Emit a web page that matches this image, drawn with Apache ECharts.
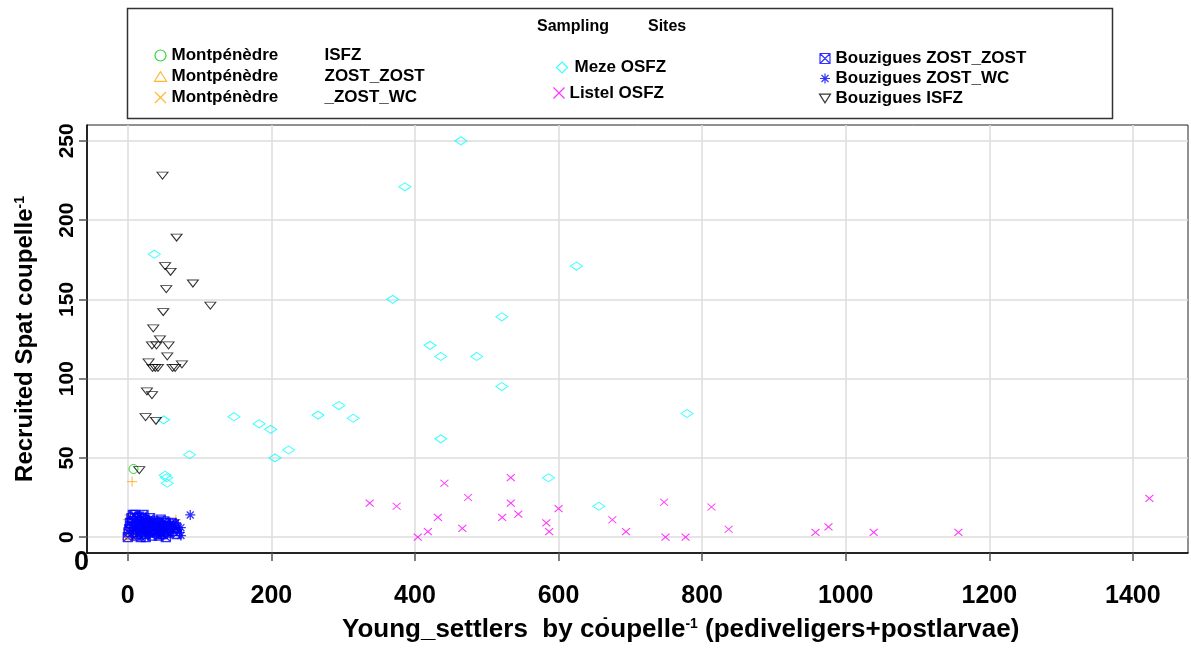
<!DOCTYPE html>
<html>
<head>
<meta charset="utf-8">
<script src="https://cdn.jsdelivr.net/npm/echarts@6/dist/echarts.min.js"></script>
<style>
    html, body { margin: 0; padding: 0; background: #fff; }
    #chart { width: 1191px; height: 648px; }
</style>
</head>
<body>
<div id="chart"></div>
<script>
// tick labels
const xTicks = [0, 200, 400, 600, 800, 1000, 1200, 1400];
const yTicks = [0, 50, 100, 150, 200, 250];

// [young settlers, recruited spat]
const montpIsfz = [[8, 43], [19, 1], [24, 9]];
const montpZostZost = [[0, 1], [2, 0], [4, 4], [1, 7], [6, 1], [12, 3]];
const montpZostWc = [[6, 35], [0, 11], [2, 14], [0, 5], [67, 11], [3, 8], [14, 13]];

const mezeOsfz = [
    [464, 250], [386, 221], [625, 171], [37, 178.5], [369, 150], [521, 139],
    [421, 121], [436, 114], [486, 114], [521, 95], [779, 78], [294, 83],
    [314, 75], [436, 62], [50, 74], [148, 76], [183, 71.5], [199, 68],
    [86, 52], [205, 50], [224, 55], [265, 77], [52, 39], [54, 37.5],
    [55, 34], [586, 37.5], [656, 19.5]
];

const listelOsfz = [
    [337, 21.5], [374.5, 19.5], [404, 0], [418, 3.5], [432, 12.5], [441, 34],
    [466, 5.5], [474, 25], [521.5, 12.5], [533.5, 37.5], [533.5, 21.5], [544, 14.5],
    [583, 9], [587, 3.5], [600, 18], [675, 11], [694, 3.5], [747, 22],
    [749, 0], [777, 0], [813, 19], [837, 5], [958, 3], [976, 6.5],
    [1039, 3], [1157, 3], [1423, 24.5]
];

const bouzZostZost = [
    [0, 0], [2, 5], [3, 9], [5, 12], [8, 3], [10, 14], [12, 7], [14, 2],
    [15, 10], [17, 5], [18, 0], [20, 12], [22, 8], [23, 3], [24, 11], [25, 0],
    [27, 6], [28, 9], [30, 4], [31, 12], [33, 7], [34, 1], [36, 5], [37, 10],
    [38, 8], [40, 3], [41, 6], [43, 1], [44, 9], [46, 11], [48, 5], [49, 2],
    [50, 7], [52, 4], [53, 9], [53, 0], [55, 6], [57, 3], [59, 7], [62, 4],
    [64, 8], [66, 6], [68, 2], [1, 3], [4, 7], [6, 10], [9, 6], [11, 1],
    [13, 12], [16, 8], [19, 3], [21, 6], [24, 2], [26, 9], [29, 7], [32, 3],
    [35, 9], [39, 5], [42, 8], [45, 4], [47, 7], [51, 10], [54, 3], [58, 5],
    [7, 14], [16, 13], [22, 14], [30, 10], [46, 2], [61, 9]
];

const bouzZostWc = [
    [15, 6], [20, 9], [25, 4], [30, 2], [35, 7], [45, 3], [58, 8],
    [63, 5], [67, 9], [70, 6], [72, 3], [74, 1], [74, 6], [87, 14]
];

const bouzIsfz = [
    [48.4, 228], [68, 189], [52, 171], [59.6, 167.4], [90.7, 160], [53.6, 156.5],
    [115, 146], [49.4, 142], [35.5, 131.7], [44.8, 124.7], [33.7, 121], [40, 121],
    [56.8, 121], [55, 114], [29, 110.2], [75.4, 109], [34.5, 106.8], [38.3, 106.8],
    [42, 106.8], [62.4, 106.8], [66, 106.8], [26.7, 92], [33.7, 89.6], [24.8, 75.7],
    [39.2, 73.4], [16, 42.3]
];

const symCircle = 'path://M10,5A5,5,0,1,1,0,5A5,5,0,1,1,10,5Z';
const symTriUp = 'path://M5,0L10,8L0,8Z';
const symCross = 'path://M0,0L10,10M10,0L0,10';
const symPlus = 'path://M5,0L5,10M0,5L10,5';
const symDiamond = 'path://M5,0L10,5L5,10L0,5Z';
const symBoxX = 'path://M0,0L10,0L10,10L0,10ZM0,0L10,10M10,0L0,10';
const symStar = 'path://M5,0L5,10M0,5L10,5M1.5,1.5L8.5,8.5M8.5,1.5L1.5,8.5';
const symTriDown = 'path://M0,0L10,0L5,8Z';

const GREEN = '#00c800';
const ORANGE = '#ffa500';
const CYAN = '#00ffff';
const MAGENTA = '#ff00ff';
const BLUE = '#0000ff';

function scatter(name, data, symbol, size, color, width) {
    return {
        name: name,
        type: 'scatter',
        data: data,
        symbol: symbol,
        symbolSize: size,
        itemStyle: { color: 'none', borderColor: color, borderWidth: width || 1 },
        emphasis: { disabled: true },
        silent: true
    };
}

function legendItem(name, icon, color) {
    return { name: name, icon: icon, itemStyle: { color: 'none', borderColor: color, borderWidth: 1.2 } };
}

let chart = echarts.init(document.getElementById('chart'), null, { renderer: 'canvas' });

const FONT = 'Liberation Sans, Arial, sans-serif';
const boldText = { fontFamily: FONT, fontWeight: 'bold', color: '#000' };

let option = {
    animation: false,
    backgroundColor: '#fff',
    grid: {
        left: 87, right: 3, top: 125, bottom: 95,
        show: true, borderColor: '#222', borderWidth: 1, backgroundColor: '#fff'
    },
    legend: [
        {
            left: 152, top: 46, orient: 'vertical', itemWidth: 12, itemHeight: 11, itemGap: 2,
            selectedMode: false, padding: 0,
            textStyle: Object.assign({ fontSize: 17, lineHeight: 19 }, boldText, {
                rich: { a: { width: 153, fontSize: 17, fontWeight: 'bold' }, b: { fontSize: 17, fontWeight: 'bold' } }
            }),
            formatter: name => {
                let i = name.indexOf(' ');
                return '{a|' + name.slice(0, i) + '}{b|' + name.slice(i + 1) + '}';
            },
            data: [
                legendItem('Montpénèdre ISFZ', symCircle, GREEN),
                legendItem('Montpénèdre ZOST_ZOST', symTriUp, ORANGE),
                legendItem('Montpénèdre _ZOST_WC', symCross, ORANGE)
            ]
        },
        {
            left: 554, top: 58, itemWidth: 15, itemHeight: 11, selectedMode: false, padding: 0,
            textStyle: Object.assign({ fontSize: 17, lineHeight: 19 }, boldText),
            data: [legendItem('Meze OSFZ', symDiamond, CYAN)]
        },
        {
            left: 551, top: 81, itemWidth: 11, itemHeight: 11, selectedMode: false, padding: 0,
            textStyle: Object.assign({ fontSize: 17, lineHeight: 24 }, boldText),
            data: [legendItem('Listel OSFZ', symCross, MAGENTA)]
        },
        {
            left: 817, top: 49, orient: 'vertical', itemWidth: 11, itemHeight: 10, itemGap: 1,
            selectedMode: false, padding: 0,
            textStyle: Object.assign({ fontSize: 17, lineHeight: 19 }, boldText),
            data: [
                legendItem('Bouzigues ZOST_ZOST', symBoxX, BLUE),
                legendItem('Bouzigues ZOST_WC', symStar, BLUE),
                legendItem('Bouzigues ISFZ', symTriDown, '#000')
            ]
        }
    ],
    xAxis: {
        type: 'value',
        min: -56.8,
        max: 1476.8,
        axisLine: { onZero: false, lineStyle: { color: '#000', width: 1.5 } },
        axisTick: { customValues: xTicks, length: 8, lineStyle: { color: '#555', width: 1.5 } },
        axisLabel: Object.assign({ customValues: xTicks, fontSize: 25, margin: 31, formatter: v => String(v) }, boldText),
        splitLine: { show: true, lineStyle: { color: '#dcdcdc', width: 1.5 } }
    },
    yAxis: {
        type: 'value',
        min: -10,
        max: 260,
        name: '{a|Recruited Spat coupelle}{s|-1}',
        nameLocation: 'middle',
        nameRotate: 90,
        nameGap: 50,
        nameTextStyle: Object.assign({}, boldText, {
            fontSize: 24,
            rich: {
                a: { fontSize: 24, fontWeight: 'bold', fontFamily: FONT },
                s: { fontSize: 14, fontWeight: 'bold', verticalAlign: 'top', fontFamily: FONT }
            }
        }),
        axisLine: { onZero: false, lineStyle: { color: '#000', width: 1.5 } },
        axisTick: { customValues: yTicks, length: 8, lineStyle: { color: '#555', width: 1.5 } },
        axisLabel: Object.assign({ customValues: yTicks, fontSize: 21, rotate: 90, margin: 9, formatter: v => String(v) }, boldText),
        splitLine: { show: true, lineStyle: { color: '#dcdcdc', width: 1.5 } }
    },
    graphic: [
        {
            type: 'rect', silent: true, z: 0,
            shape: { x: 127.5, y: 8.5, width: 985, height: 110 },
            style: { fill: '#fff', stroke: '#333', lineWidth: 1.5 }
        },
        {
            type: 'text', left: 537, top: 19, silent: true,
            style: { text: 'Sampling', font: 'bold 16px "Liberation Sans", Arial, sans-serif', fill: '#000' }
        },
        {
            type: 'text', left: 648, top: 19, silent: true,
            style: { text: 'Sites', font: 'bold 16px "Liberation Sans", Arial, sans-serif', fill: '#000' }
        },
        {
            type: 'text', left: 74, top: 549, silent: true,
            style: { text: '0', font: 'bold 27px "Liberation Sans", Arial, sans-serif', fill: '#000' }
        },
        {
            type: 'text', left: 342, top: 617, silent: true,
            style: {
                text: '{a|Young_settlers  by coupelle}{s|-1}{a| (pediveligers+postlarvae)}',
                rich: {
                    a: { fontSize: 26, fontWeight: 'bold', fontFamily: FONT, fill: '#000' },
                    s: { fontSize: 14, fontWeight: 'bold', verticalAlign: 'top', fontFamily: FONT, fill: '#000' }
                }
            }
        },
        {
            type: 'text', left: 603, top: 611, silent: true,
            style: { text: '-', font: 'bold 14px "Liberation Sans", Arial, sans-serif', fill: '#000' }
        }
    ],
    series: [
        scatter('Montpénèdre ISFZ', montpIsfz, symCircle, 9, GREEN),
        scatter('Montpénèdre ZOST_ZOST', montpZostZost, symTriUp, [10, 8], ORANGE),
        scatter('Montpénèdre _ZOST_WC', montpZostWc, symPlus, 10, ORANGE),
        scatter('Meze OSFZ', mezeOsfz, symDiamond, [12, 8], CYAN),
        scatter('Listel OSFZ', listelOsfz, symCross, [8, 7], MAGENTA),
        scatter('Bouzigues ZOST_ZOST', bouzZostZost, symBoxX, 9, BLUE, 1.3),
        scatter('Bouzigues ZOST_WC', bouzZostWc, symStar, 10, BLUE, 1.3),
        scatter('Bouzigues ISFZ', bouzIsfz, symTriDown, [11, 7], '#000')
    ]
};

option && chart.setOption(option);
</script>
</body>
</html>
